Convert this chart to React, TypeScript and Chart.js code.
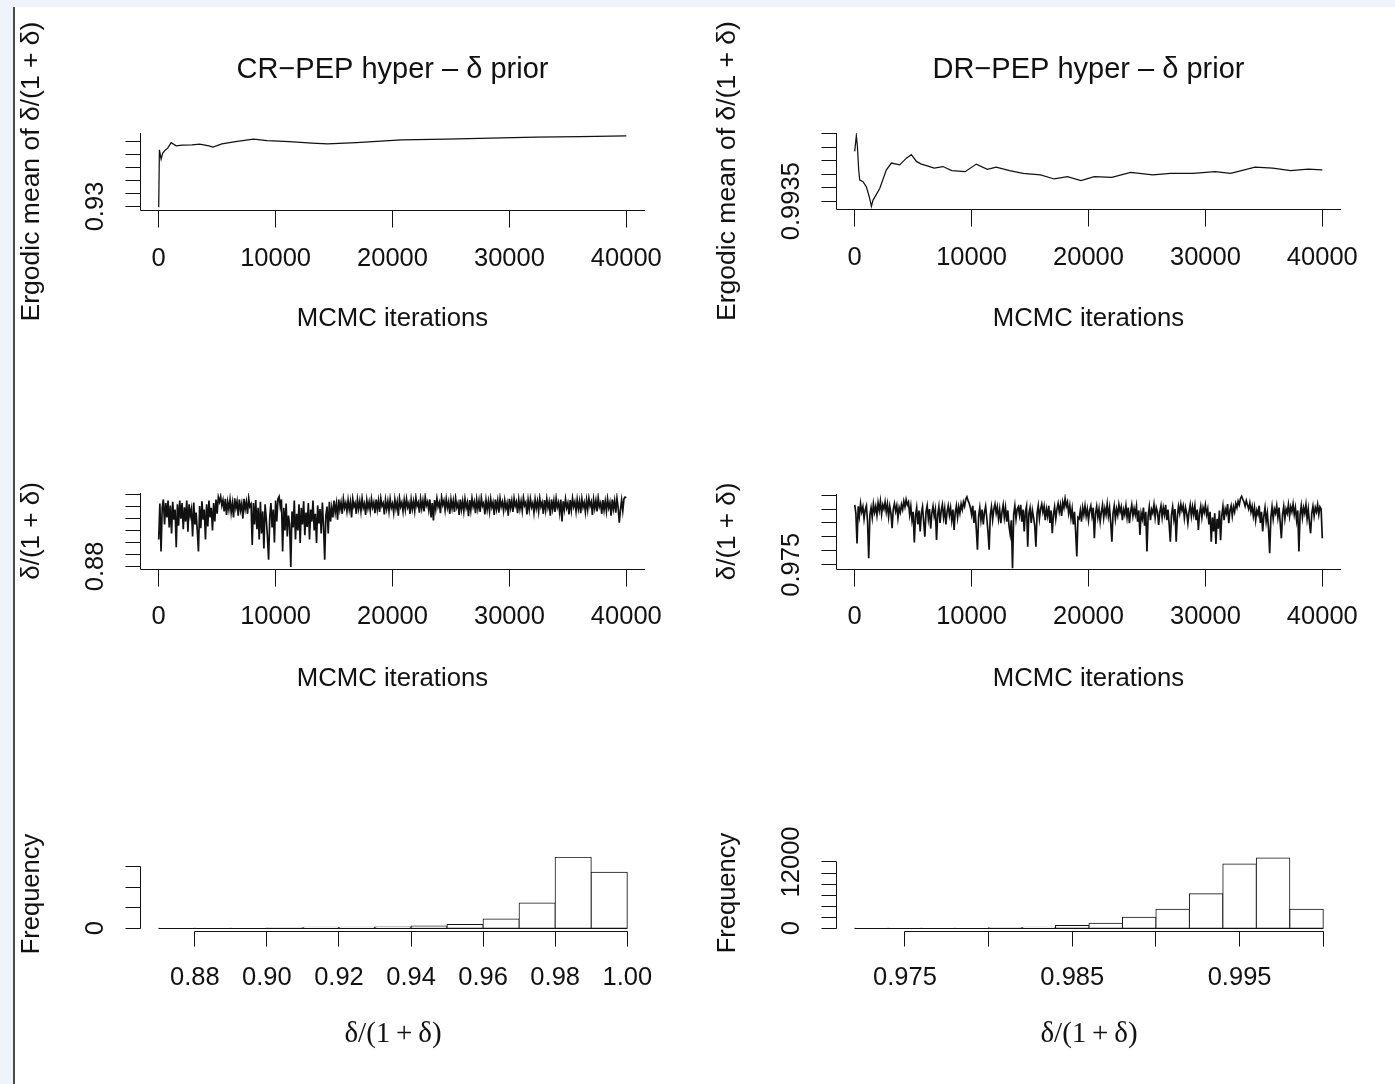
import React, { useEffect, useRef } from "react";
import { Chart, registerables } from "chart.js";

Chart.register(...registerables);

// ---------------- data ----------------
const ITER_TICKS = [0, 10000, 20000, 30000, 40000];
const ITER_TICK_LABELS = ["0", "10000", "20000", "30000", "40000"];
const TITLES = ["CR\u2212PEP hyper \u2013 \u03b4 prior", "DR\u2212PEP hyper \u2013 \u03b4 prior"];

// ergodic mean, CR-PEP
const ERG_CR_ITER = [0, 60, 206, 343, 575, 773, 1064, 1494, 2000, 2850, 3500, 4300, 4650, 5400, 6580, 8100, 9270, 11170, 13100, 14440, 16900, 20760, 24600, 28400, 32250, 36080, 40000];
const ERG_CR = [0.9295, 0.9736, 0.9665, 0.9711, 0.9736, 0.9749, 0.9792, 0.9767, 0.9772, 0.9775, 0.978, 0.9767, 0.9757, 0.9782, 0.98, 0.9818, 0.9808, 0.98, 0.9788, 0.9782, 0.9792, 0.9813, 0.9818, 0.9826, 0.9834, 0.9838, 0.9844];
const ERG_CR_YTICKS = [0.93, 0.94, 0.95, 0.96, 0.97, 0.98];
const ERG_CR_YLABELS = ["0.93", "", "", "", "", ""];

// ergodic mean, DR-PEP
const ERG_DR_ITER = [0, 140, 230, 340, 430, 710, 1000, 1280, 1430, 1570, 2140, 2710, 3140, 3850, 4420, 4850, 5280, 5650, 6800, 7550, 8300, 9450, 10400, 11350, 12100, 13250, 14400, 15900, 17060, 18200, 19350, 20500, 22000, 23600, 25500, 27000, 28950, 30820, 32160, 34250, 35770, 37290, 38800, 40000];
const ERG_DR = [0.99534, 0.99592, 0.99553, 0.99466, 0.99428, 0.99422, 0.99403, 0.9936, 0.99331, 0.99354, 0.99397, 0.99466, 0.99491, 0.99484, 0.99509, 0.99522, 0.99497, 0.99488, 0.99472, 0.99478, 0.99463, 0.99459, 0.99487, 0.99468, 0.99476, 0.99463, 0.99453, 0.99447, 0.99432, 0.99441, 0.99426, 0.99441, 0.99438, 0.99456, 0.99447, 0.99453, 0.99453, 0.99459, 0.99453, 0.99476, 0.99472, 0.99463, 0.99468, 0.99466];
const ERG_DR_YTICKS = [0.9935, 0.994, 0.9945, 0.995, 0.9955, 0.996];
const ERG_DR_YLABELS = ["0.9935", "", "", "", "", ""];

// traces: one stored draw every TRACE_THIN iterations
const TRACE_THIN = 100;
const TRACE_CR = [
  0.925, 0.985, 0.905, 0.978, 0.992, 0.950, 0.986, 0.962, 0.990, 0.945, 0.982, 0.935, 0.988, 0.958, 0.975, 0.912, 0.984, 0.948, 0.990, 0.960,
  0.986, 0.942, 0.979, 0.955, 0.990, 0.938, 0.984, 0.965, 0.976, 0.930, 0.987, 0.950, 0.970, 0.940, 0.905, 0.981, 0.944, 0.989, 0.958, 0.975,
  0.925, 0.984, 0.947, 0.990, 0.962, 0.978, 0.940, 0.986, 0.955, 0.992, 0.968, 0.996, 0.988, 0.997, 0.982, 0.991, 0.972, 0.993, 0.966, 0.988,
  0.975, 0.992, 0.970, 0.986, 0.962, 0.994, 0.978, 0.989, 0.965, 0.992, 0.974, 0.985, 0.960, 0.993, 0.976, 0.988, 0.968, 0.994, 0.980, 0.984,
  0.916, 0.986, 0.950, 0.991, 0.942, 0.978, 0.925, 0.988, 0.935, 0.972, 0.910, 0.984, 0.960, 0.930, 0.891, 0.962, 0.986, 0.945, 0.975, 0.920,
  0.990, 0.955, 0.993, 0.997, 0.980, 0.992, 0.905, 0.978, 0.940, 0.985, 0.930, 0.965, 0.950, 0.879, 0.972, 0.945, 0.990, 0.925, 0.968, 0.940,
  0.984, 0.919, 0.978, 0.950, 0.989, 0.932, 0.970, 0.946, 0.986, 0.925, 0.975, 0.955, 0.990, 0.940, 0.968, 0.919, 0.982, 0.952, 0.976, 0.935,
  0.987, 0.948, 0.891, 0.965, 0.980, 0.935, 0.988, 0.955, 0.978, 0.962, 0.990, 0.970, 0.985, 0.958, 0.992, 0.975, 0.987, 0.968, 0.993, 0.978,
  0.986, 0.972, 0.991, 0.975, 0.988, 0.962, 0.993, 0.980, 0.986, 0.968, 0.992, 0.976, 0.989, 0.972, 0.994, 0.978, 0.985, 0.966, 0.991, 0.977,
  0.988, 0.973, 0.993, 0.979, 0.987, 0.969, 0.992, 0.975, 0.990, 0.971, 0.994, 0.981, 0.986, 0.967, 0.991, 0.976, 0.989, 0.972, 0.993, 0.978,
  0.985, 0.970, 0.992, 0.977, 0.988, 0.965, 0.994, 0.980, 0.987, 0.972, 0.991, 0.975, 0.993, 0.979, 0.986, 0.968, 0.992, 0.976, 0.989, 0.973,
  0.995, 0.981, 0.987, 0.970, 0.993, 0.977, 0.990, 0.972, 0.996, 0.982, 0.988, 0.974, 0.992, 0.962, 0.986, 0.957, 0.991, 0.976, 0.994, 0.980,
  0.987, 0.969, 0.996, 0.983, 0.990, 0.974, 0.993, 0.978, 0.988, 0.968, 0.992, 0.977, 0.990, 0.971, 0.994, 0.979, 0.986, 0.966, 0.992, 0.975,
  0.989, 0.972, 0.993, 0.978, 0.987, 0.964, 0.991, 0.974, 0.994, 0.980, 0.988, 0.969, 0.992, 0.976, 0.990, 0.971, 0.995, 0.981, 0.986, 0.967,
  0.991, 0.975, 0.989, 0.972, 0.993, 0.979, 0.987, 0.966, 0.992, 0.976, 0.990, 0.970, 0.994, 0.980, 0.988, 0.973, 0.991, 0.977, 0.986, 0.965,
  0.993, 0.978, 0.990, 0.971, 0.994, 0.981, 0.988, 0.969, 0.992, 0.976, 0.989, 0.973, 0.995, 0.982, 0.987, 0.967, 0.991, 0.975, 0.993, 0.979,
  0.986, 0.970, 0.992, 0.977, 0.989, 0.972, 0.994, 0.980, 0.987, 0.968, 0.991, 0.974, 0.993, 0.978, 0.988, 0.965, 0.992, 0.976, 0.990, 0.971,
  0.994, 0.979, 0.987, 0.970, 0.992, 0.955, 0.989, 0.975, 0.993, 0.978, 0.986, 0.967, 0.991, 0.974, 0.994, 0.980, 0.988, 0.972, 0.992, 0.976,
  0.989, 0.969, 0.993, 0.979, 0.987, 0.971, 0.991, 0.975, 0.994, 0.981, 0.988, 0.966, 0.992, 0.977, 0.990, 0.972, 0.995, 0.980, 0.986, 0.968,
  0.991, 0.974, 0.989, 0.972, 0.993, 0.978, 0.987, 0.965, 0.992, 0.976, 0.990, 0.970, 0.994, 0.979, 0.953, 0.975, 0.991, 0.973, 0.993, 0.996,
  0.995,
];
const TRACE_CR_YTICKS = [0.88, 0.9, 0.92, 0.94, 0.96, 0.98, 1.0];
const TRACE_CR_YLABELS = ["0.88", "", "", "", "", "", ""];

const TRACE_DR = [
  0.9965, 0.9935, 0.9827, 0.9960, 0.9925, 0.9970, 0.9940, 0.9958, 0.9915, 0.9948, 0.9962, 0.9905, 0.9774, 0.9930, 0.9955, 0.9920, 0.9968, 0.9938, 0.9960, 0.9928,
  0.9972, 0.9945, 0.9978, 0.9932, 0.9965, 0.9950, 0.9975, 0.9940, 0.9968, 0.9922, 0.9960, 0.9935, 0.9881, 0.9950, 0.9970, 0.9942, 0.9962, 0.9918, 0.9955, 0.9938,
  0.9966, 0.9948, 0.9978, 0.9958, 0.9984, 0.9965, 0.9975, 0.9930, 0.9960, 0.9910, 0.9940, 0.9830, 0.9925, 0.9955, 0.9895, 0.9945, 0.9870, 0.9935, 0.9958, 0.9905,
  0.9851, 0.9940, 0.9962, 0.9915, 0.9950, 0.9880, 0.9935, 0.9960, 0.9925, 0.9948, 0.9839, 0.9930, 0.9958, 0.9900, 0.9945, 0.9966, 0.9920, 0.9952, 0.9895, 0.9940,
  0.9962, 0.9928, 0.9955, 0.9910, 0.9948, 0.9875, 0.9938, 0.9962, 0.9920, 0.9958, 0.9935, 0.9968, 0.9948, 0.9975, 0.9960, 0.9985, 0.9994, 0.9980, 0.9970, 0.9955,
  0.9930, 0.9962, 0.9900, 0.9945, 0.9880, 0.9804, 0.9925, 0.9955, 0.9910, 0.9948, 0.9895, 0.9938, 0.9960, 0.9918, 0.9870, 0.9804, 0.9930, 0.9958, 0.9912, 0.9950,
  0.9968, 0.9935, 0.9958, 0.9915, 0.9948, 0.9899, 0.9940, 0.9965, 0.9920, 0.9955, 0.9905, 0.9945, 0.9890, 0.9860, 0.9910, 0.9738, 0.9930, 0.9962, 0.9915, 0.9950,
  0.9958, 0.9928, 0.9965, 0.9905, 0.9948, 0.9870, 0.9940, 0.9960, 0.9815, 0.9935, 0.9955, 0.9900, 0.9945, 0.9920, 0.9890, 0.9815, 0.9935, 0.9962, 0.9915, 0.9950,
  0.9968, 0.9938, 0.9960, 0.9910, 0.9950, 0.9925, 0.9962, 0.9900, 0.9945, 0.9863, 0.9930, 0.9958, 0.9915, 0.9950, 0.9970, 0.9940, 0.9965, 0.9925, 0.9975, 0.9955,
  0.9988, 0.9960, 0.9975, 0.9935, 0.9962, 0.9918, 0.9950, 0.9895, 0.9940, 0.9870, 0.9780, 0.9920, 0.9915, 0.9945, 0.9905, 0.9955, 0.9930, 0.9962, 0.9925, 0.9950,
  0.9910, 0.9945, 0.9962, 0.9925, 0.9955, 0.9845, 0.9935, 0.9960, 0.9920, 0.9950, 0.9905, 0.9940, 0.9965, 0.9918, 0.9952, 0.9930, 0.9968, 0.9925, 0.9955, 0.9900,
  0.9833, 0.9935, 0.9962, 0.9915, 0.9950, 0.9928, 0.9966, 0.9940, 0.9958, 0.9910, 0.9948, 0.9930, 0.9962, 0.9920, 0.9955, 0.9899, 0.9940, 0.9965, 0.9925, 0.9952,
  0.9930, 0.9960, 0.9905, 0.9945, 0.9857, 0.9935, 0.9915, 0.9955, 0.9890, 0.9940, 0.9798, 0.9925, 0.9958, 0.9910, 0.9948, 0.9935, 0.9966, 0.9920, 0.9955, 0.9940,
  0.9893, 0.9940, 0.9962, 0.9920, 0.9955, 0.9930, 0.9965, 0.9910, 0.9948, 0.9895, 0.9833, 0.9930, 0.9958, 0.9915, 0.9950, 0.9833, 0.9925, 0.9960, 0.9935, 0.9968,
  0.9945, 0.9962, 0.9918, 0.9955, 0.9935, 0.9899, 0.9940, 0.9965, 0.9925, 0.9958, 0.9930, 0.9962, 0.9910, 0.9948, 0.9875, 0.9935, 0.9960, 0.9920, 0.9955, 0.9938,
  0.9965, 0.9930, 0.9950, 0.9895, 0.9940, 0.9833, 0.9920, 0.9870, 0.9935, 0.9825, 0.9915, 0.9880, 0.9945, 0.9838, 0.9925, 0.9960, 0.9910, 0.9950, 0.9935, 0.9968,
  0.9899, 0.9945, 0.9962, 0.9925, 0.9958, 0.9940, 0.9970, 0.9955, 0.9978, 0.9965, 0.9988, 0.9996, 0.9985, 0.9975, 0.9960, 0.9980, 0.9965, 0.9950, 0.9972, 0.9940,
  0.9960, 0.9925, 0.9955, 0.9910, 0.9945, 0.9930, 0.9962, 0.9900, 0.9940, 0.9870, 0.9925, 0.9955, 0.9905, 0.9935, 0.9880, 0.9792, 0.9920, 0.9958, 0.9915, 0.9950,
  0.9935, 0.9962, 0.9920, 0.9955, 0.9900, 0.9845, 0.9930, 0.9960, 0.9915, 0.9950, 0.9935, 0.9966, 0.9925, 0.9958, 0.9940, 0.9968, 0.9930, 0.9955, 0.9910, 0.9945,
  0.9798, 0.9930, 0.9962, 0.9920, 0.9955, 0.9935, 0.9966, 0.9915, 0.9950, 0.9900, 0.9863, 0.9935, 0.9960, 0.9925, 0.9955, 0.9940, 0.9966, 0.9930, 0.9958, 0.9950,
  0.9845,
];
const TRACE_DR_YTICKS = [0.975, 0.98, 0.985, 0.99, 0.995, 1.0];
const TRACE_DR_YLABELS = ["0.975", "", "", "", "", ""];

// histograms
const HIST_CR_BREAKS = [0.87, 0.88, 0.89, 0.9, 0.91, 0.92, 0.93, 0.94, 0.95, 0.96, 0.97, 0.98, 0.99, 1.0];
const HIST_CR_COUNTS = [4, 8, 15, 40, 220, 250, 280, 560, 930, 2270, 6170, 17390, 13730];
const HIST_CR_XTICKS = [0.88, 0.9, 0.92, 0.94, 0.96, 0.98, 1.0];
const HIST_CR_XLABELS = ["0.88", "0.90", "0.92", "0.94", "0.96", "0.98", "1.00"];
const HIST_CR_YTICKS = [0, 5000, 10000, 15000];
const HIST_CR_YLABELS = ["0", "", "", ""];

const HIST_DR_BREAKS = [0.972, 0.974, 0.976, 0.978, 0.98, 0.982, 0.984, 0.986, 0.988, 0.99, 0.992, 0.994, 0.996, 0.998, 1.0];
const HIST_DR_COUNTS = [4, 3, 6, 15, 90, 160, 470, 900, 1980, 3420, 6230, 11640, 12720, 3420];
const HIST_DR_XTICKS = [0.975, 0.98, 0.985, 0.99, 0.995, 1.0];
const HIST_DR_XLABELS = ["0.975", "", "0.985", "", "0.995", ""];
const HIST_DR_YTICKS = [0, 2000, 4000, 6000, 8000, 10000, 12000];
const HIST_DR_YLABELS = ["0", "", "", "", "", "", "12000"];

// ---------------- style / layout ----------------
const W = 1395;
const H = 1084;
const INK = "#111111";
const STRIP = "#eff3fc";
const SANS = '"Liberation Sans", Arial, Helvetica, sans-serif';
const SERIF = '"Liberation Serif", "Times New Roman", serif';

type Area = { l: number; r: number; t: number; b: number };
type Spec = {
  key: string;
  kind: "line" | "hist";
  area: Area;
  xRange: [number, number];
  yRange: [number, number];
  xs?: number[];
  ys?: number[];
  breaks?: number[];
  counts?: number[];
  lineWidth?: number;
  xTicks: number[];
  xLabels: string[];
  yTicks: number[];
  yLabels: string[];
  xTickLen: number;
  xLabGap: number;
  xTitleGap: number;
  title?: string;
  xTitle: string;
  xTitleSerif?: boolean;
  yTitle: string;
  yTitleSize: number;
};

const traceIters = (vals: number[]) => vals.map((_, i) => i * TRACE_THIN);

const SPECS: Spec[] = [
  {
    key: "ergCR", kind: "line", area: { l: 140, r: 645, t: 133, b: 210 },
    xRange: [-1600, 41600], yRange: [0.9273, 0.9866],
    xs: ERG_CR_ITER, ys: ERG_CR, lineWidth: 1.25,
    xTicks: ITER_TICKS, xLabels: ITER_TICK_LABELS, yTicks: ERG_CR_YTICKS, yLabels: ERG_CR_YLABELS,
    xTickLen: 17, xLabGap: 49, xTitleGap: 109, title: TITLES[0], xTitle: "MCMC iterations",
    yTitle: "Ergodic mean of \u03b4/(1 + \u03b4)", yTitleSize: 26.5,
  },
  {
    key: "ergDR", kind: "line", area: { l: 836, r: 1341, t: 133, b: 209 },
    xRange: [-1600, 41600], yRange: [0.99321, 0.99602],
    xs: ERG_DR_ITER, ys: ERG_DR, lineWidth: 1.25,
    xTicks: ITER_TICKS, xLabels: ITER_TICK_LABELS, yTicks: ERG_DR_YTICKS, yLabels: ERG_DR_YLABELS,
    xTickLen: 17, xLabGap: 49, xTitleGap: 110, title: TITLES[1], xTitle: "MCMC iterations",
    yTitle: "Ergodic mean of \u03b4/(1 + \u03b4)", yTitleSize: 26.5,
  },
  {
    key: "trCR", kind: "line", area: { l: 140, r: 645, t: 493, b: 569 },
    xRange: [-1600, 41600], yRange: [0.8756, 1.0028],
    xs: traceIters(TRACE_CR), ys: TRACE_CR, lineWidth: 1.7,
    xTicks: ITER_TICKS, xLabels: ITER_TICK_LABELS, yTicks: TRACE_CR_YTICKS, yLabels: TRACE_CR_YLABELS,
    xTickLen: 17, xLabGap: 48, xTitleGap: 110, xTitle: "MCMC iterations",
    yTitle: "\u03b4/(1 + \u03b4)", yTitleSize: 26,
  },
  {
    key: "trDR", kind: "line", area: { l: 836, r: 1341, t: 494, b: 569 },
    xRange: [-1600, 41600], yRange: [0.9735, 1.0004],
    xs: traceIters(TRACE_DR), ys: TRACE_DR, lineWidth: 1.7,
    xTicks: ITER_TICKS, xLabels: ITER_TICK_LABELS, yTicks: TRACE_DR_YTICKS, yLabels: TRACE_DR_YLABELS,
    xTickLen: 17, xLabGap: 48, xTitleGap: 110, xTitle: "MCMC iterations",
    yTitle: "\u03b4/(1 + \u03b4)", yTitleSize: 26,
  },
  {
    key: "hCR", kind: "hist", area: { l: 140, r: 646, t: 857, b: 931 },
    xRange: [0.8648, 1.0052], yRange: [-682, 17433],
    breaks: HIST_CR_BREAKS, counts: HIST_CR_COUNTS,
    xTicks: HIST_CR_XTICKS, xLabels: HIST_CR_XLABELS, yTicks: HIST_CR_YTICKS, yLabels: HIST_CR_YLABELS,
    xTickLen: 15, xLabGap: 47, xTitleGap: 103, xTitle: "\u03b4/(1\u2009+\u2009\u03b4)", xTitleSerif: true,
    yTitle: "Frequency", yTitleSize: 25.5,
  },
  {
    key: "hDR", kind: "hist", area: { l: 836, r: 1342, t: 855, b: 931 },
    xRange: [0.97088, 1.00112], yRange: [-505, 13261],
    breaks: HIST_DR_BREAKS, counts: HIST_DR_COUNTS,
    xTicks: HIST_DR_XTICKS, xLabels: HIST_DR_XLABELS, yTicks: HIST_DR_YTICKS, yLabels: HIST_DR_YLABELS,
    xTickLen: 15, xLabGap: 47, xTitleGap: 103, xTitle: "\u03b4/(1\u2009+\u2009\u03b4)", xTitleSerif: true,
    yTitle: "Frequency", yTitleSize: 25.5,
  },
];

function makeRPlugin(spec: Spec) {
  return {
    id: "rStyle_" + spec.key,
    afterDraw(chart: any) {
      const ctx: CanvasRenderingContext2D = chart.ctx;
      const ca = chart.chartArea;
      const xs = chart.scales.x;
      const ys = chart.scales.y;
      const snap = (v: number) => Math.round(v - 0.5) + 0.5;
      const left = snap(ca.left);
      const bottom = snap(ca.bottom);
      ctx.save();
      ctx.strokeStyle = INK;
      ctx.lineWidth = 1;
      ctx.beginPath();
      if (spec.kind === "hist") {
        const br = spec.breaks!;
        const y0 = snap(ys.getPixelForValue(0));
        ctx.moveTo(xs.getPixelForValue(br[0]), y0);
        ctx.lineTo(xs.getPixelForValue(br[br.length - 1]), y0);
        ctx.moveTo(snap(xs.getPixelForValue(spec.xTicks[0])), bottom);
        ctx.lineTo(snap(xs.getPixelForValue(spec.xTicks[spec.xTicks.length - 1])), bottom);
        ctx.moveTo(left, snap(ys.getPixelForValue(spec.yTicks[0])));
        ctx.lineTo(left, snap(ys.getPixelForValue(spec.yTicks[spec.yTicks.length - 1])));
      } else {
        ctx.moveTo(left, ca.top);
        ctx.lineTo(left, bottom);
        ctx.lineTo(ca.right, bottom);
      }
      spec.xTicks.forEach((v) => {
        const x = snap(xs.getPixelForValue(v));
        ctx.moveTo(x, bottom);
        ctx.lineTo(x, bottom + spec.xTickLen);
      });
      spec.yTicks.forEach((v) => {
        const y = snap(ys.getPixelForValue(v));
        ctx.moveTo(left, y);
        ctx.lineTo(left - 15, y);
      });
      ctx.stroke();

      ctx.fillStyle = INK;
      ctx.textAlign = "center";
      ctx.textBaseline = "middle";
      const text = (s: string, x: number, y: number, font: string, rot: boolean) => {
        ctx.save();
        ctx.translate(x, y);
        if (rot) ctx.rotate(-Math.PI / 2);
        ctx.font = font;
        ctx.fillText(s, 0, 0);
        ctx.restore();
      };
      const tickFont = `25.5px ${SANS}`;
      spec.xTicks.forEach((v, i) => {
        if (spec.xLabels[i]) text(spec.xLabels[i], xs.getPixelForValue(v), ca.bottom + spec.xLabGap, tickFont, false);
      });
      spec.yTicks.forEach((v, i) => {
        if (spec.yLabels[i]) text(spec.yLabels[i], ca.left - 44, ys.getPixelForValue(v), tickFont, true);
      });
      const cx = (ca.left + ca.right) / 2;
      const cy = (ca.top + ca.bottom) / 2;
      if (spec.title) text(spec.title, cx, ca.top - 63, `29px ${SANS}`, false);
      text(spec.xTitle, cx, ca.bottom + spec.xTitleGap, spec.xTitleSerif ? `29px ${SERIF}` : `25.7px ${SANS}`, false);
      text(spec.yTitle, ca.left - 108, cy, `${spec.yTitleSize}px ${SANS}`, true);
      ctx.restore();
    },
  };
}

function Panel({ spec }: { spec: Spec }) {
  const ref = useRef<HTMLCanvasElement | null>(null);
  useEffect(() => {
    const canvas = ref.current;
    if (!canvas) return;
    let datasets: any[];
    if (spec.kind === "hist") {
      const br = spec.breaks!;
      datasets = [
        {
          data: spec.counts!.map((c, i) => ({ x: (br[i] + br[i + 1]) / 2, y: c })),
          backgroundColor: "#ffffff",
          borderColor: INK,
          borderWidth: 1,
          borderSkipped: false,
          inflateAmount: 0.5,
          barPercentage: 1,
          categoryPercentage: 1,
        },
      ];
    } else {
      datasets = [
        {
          data: spec.ys!.map((y, i) => ({ x: spec.xs![i], y })),
          borderColor: INK,
          borderWidth: spec.lineWidth,
          pointRadius: 0,
          fill: false,
          tension: 0,
          borderJoinStyle: "miter",
        },
      ];
    }
    const chart = new Chart(canvas, {
      type: spec.kind === "hist" ? "bar" : "line",
      data: { datasets },
      options: {
        responsive: false,
        animation: false,
        devicePixelRatio: 1,
        events: [],
        layout: { padding: { left: spec.area.l, top: spec.area.t, right: W - spec.area.r, bottom: H - spec.area.b } },
        plugins: { legend: { display: false }, tooltip: { enabled: false }, title: { display: false } },
        scales: {
          x: {
            type: "linear",
            display: false,
            offset: false,
            min: spec.xRange[0],
            max: spec.xRange[1],
            afterBuildTicks: (s: any) => {
              s.ticks = spec.xTicks.map((v) => ({ value: v }));
            },
          },
          y: {
            type: "linear",
            display: false,
            min: spec.yRange[0],
            max: spec.yRange[1],
            afterBuildTicks: (s: any) => {
              s.ticks = spec.yTicks.map((v) => ({ value: v }));
            },
          },
        },
      } as any,
      plugins: [makeRPlugin(spec)],
    });
    return () => chart.destroy();
  }, [spec]);
  return <canvas ref={ref} width={W} height={H} style={{ position: "absolute", left: 0, top: 0 }} />;
}

export default function App() {
  return (
    <div style={{ position: "absolute", left: 0, top: 0, width: W, height: H, background: "#ffffff", overflow: "hidden" }}>
      <div style={{ position: "absolute", left: 0, top: 0, width: W, height: 7, background: STRIP }} />
      <div style={{ position: "absolute", left: 0, top: 0, width: 13, height: H, background: STRIP }} />
      <div style={{ position: "absolute", left: 13, top: 7, width: 1.5, height: H - 7, background: "#4a4a4a" }} />
      {SPECS.map((s) => (
        <Panel key={s.key} spec={s} />
      ))}
    </div>
  );
}
